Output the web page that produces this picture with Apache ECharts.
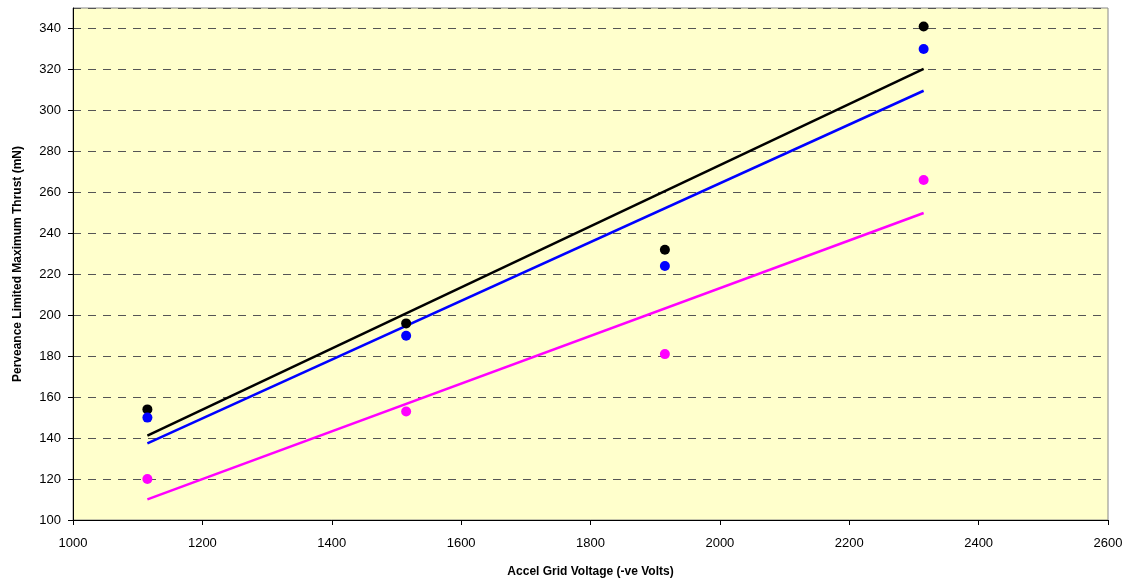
<!DOCTYPE html>
<html>
<head>
<meta charset="utf-8">
<script src="https://cdn.jsdelivr.net/npm/echarts@6/dist/echarts.min.js"></script>
<style>
  html, body { margin: 0; padding: 0; background: #fff; }
  #chart { width: 1138px; height: 580px; }
</style>
</head>
<body>
<div id="chart"></div>
<script>
// accel grid voltage (-ve volts)
var voltage = [1115, 1515, 1915, 2315]
// perveance limited max thrust (mN)
var thrustBlack = [154, 196, 232, 341]
var thrustBlue = [150, 190, 224, 330]
var thrustMagenta = [120, 153, 181, 266]

var colorlist = ['#000000', '#0000FF', '#FF00FF']

// least squares trend line through the points
function trend(xs, ys) {
  var n = xs.length
  var mx = 0, my = 0
  for (var i = 0; i < n; i++) { mx += xs[i]; my += ys[i] }
  mx /= n; my /= n
  var sxy = 0, sxx = 0
  for (var j = 0; j < n; j++) {
    sxy += (xs[j] - mx) * (ys[j] - my)
    sxx += (xs[j] - mx) * (xs[j] - mx)
  }
  var k = sxy / sxx
  var x0 = xs[0], x1 = xs[n - 1]
  return [[x0, my + k * (x0 - mx)], [x1, my + k * (x1 - mx)]]
}

function pts(xs, ys) {
  return xs.map(function(x, i) { return [x, ys[i]] })
}

var sets = [thrustBlack, thrustBlue, thrustMagenta]
var series = []
sets.forEach(function(ys, i) {
  series.push({
    type: 'line',
    data: trend(voltage, ys),
    showSymbol: false,
    silent: true,
    lineStyle: { color: colorlist[i], width: 2.5 },
    z: 2
  })
})
sets.forEach(function(ys, i) {
  series.push({
    type: 'scatter',
    data: pts(voltage, ys),
    symbol: 'circle',
    symbolSize: 10,
    itemStyle: { color: colorlist[i], opacity: 1 },
    z: 3
  })
})

var chart = echarts.init(document.getElementById('chart'))
chart.setOption({
  animation: false,
  textStyle: { fontFamily: 'Liberation Sans, Arial, sans-serif' },
  grid: {
    left: 73,
    right: 30,
    top: 8,
    bottom: 60,
    outerBoundsMode: 'none',
    containLabel: false,
    show: true,
    backgroundColor: '#FFFFCC',
    borderColor: '#888888',
    borderWidth: 1
  },
  xAxis: {
    type: 'value',
    min: 1000,
    max: 2600,
    interval: 200,
    name: 'Accel Grid Voltage (-ve Volts)',
    nameLocation: 'middle',
    nameGap: 46,
    nameTextStyle: { fontWeight: 'bold', fontSize: 12, color: '#000' },
    axisLine: { show: true, lineStyle: { color: '#000', width: 1 } },
    axisTick: { show: true, length: 5, lineStyle: { color: '#000' } },
    axisLabel: {
      color: '#000',
      fontSize: 13,
      margin: 17,
      formatter: function(v) { return String(v) }
    },
    splitLine: { show: false }
  },
  yAxis: {
    type: 'value',
    min: 100,
    max: 350,
    interval: 20,
    name: 'Perveance Limited Maximum Thrust (mN)',
    nameLocation: 'middle',
    nameGap: 49,
    nameTextStyle: { fontWeight: 'bold', fontSize: 12, color: '#000' },
    axisLine: { show: true, lineStyle: { color: '#000', width: 1 } },
    axisTick: { show: true, length: 5, lineStyle: { color: '#000' } },
    axisLabel: {
      color: '#000',
      fontSize: 13,
      margin: 12,
      showMaxLabel: false,
      formatter: function(v) { return String(v) }
    },
    splitLine: {
      show: true,
      lineStyle: { color: '#555555', type: [8, 7], width: 1 }
    }
  },
  series: series
})
window.addEventListener('resize', function() {
  chart.resize()
})
</script>
</body>
</html>
